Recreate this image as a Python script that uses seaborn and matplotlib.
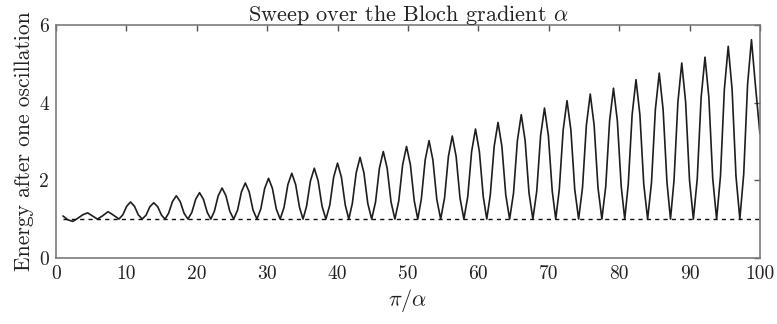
import matplotlib
matplotlib.use("Agg")
import matplotlib.pyplot as plt
import seaborn as sns
import pandas as pd

# pi/alpha sample positions and energy after one oscillation
pi_over_alpha = [
    1.0, 1.7, 2.4, 3.1, 3.8, 4.5, 5.2, 5.9, 6.6, 7.4, 8.1, 8.95,
    9.5, 10.05, 10.6, 11.15, 11.7, 12.25,
    12.8, 13.35, 13.9, 14.45, 15.0, 15.5,
    16.0, 16.55, 17.1, 17.65, 18.2, 18.75,
    19.3, 19.85, 20.4, 20.95, 21.5, 22.0,
    22.5, 23.05, 23.6, 24.15, 24.7, 25.25,
    25.8, 26.35, 26.9, 27.45, 28.0, 28.55,
    29.1, 29.65, 30.2, 30.75, 31.3, 31.85,
    32.4, 32.95, 33.5, 34.05, 34.6, 35.1,
    35.6, 36.15, 36.7, 37.25, 37.8, 38.35,
    38.9, 39.45, 40.0, 40.55, 41.1, 41.6,
    42.1, 42.65, 43.2, 43.75, 44.3, 44.85,
    45.4, 45.95, 46.5, 47.05, 47.6, 48.15,
    48.7, 49.25, 49.8, 50.35, 50.9, 51.4,
    51.9, 52.45, 53.0, 53.55, 54.1, 54.65,
    55.2, 55.75, 56.3, 56.85, 57.4, 57.95,
    58.5, 59.05, 59.6, 60.15, 60.7, 61.2,
    61.7, 62.25, 62.8, 63.35, 63.9, 64.45,
    65.0, 65.55, 66.1, 66.65, 67.2, 67.75,
    68.3, 68.85, 69.4, 69.95, 70.5, 71.0,
    71.5, 72.05, 72.6, 73.15, 73.7, 74.25,
    74.8, 75.35, 75.9, 76.45, 77.0, 77.55,
    78.1, 78.65, 79.2, 79.75, 80.3, 80.8,
    81.3, 81.85, 82.4, 82.95, 83.5, 84.05,
    84.6, 85.15, 85.7, 86.25, 86.8, 87.3,
    87.8, 88.35, 88.9, 89.45, 90.0, 90.55,
    91.1, 91.65, 92.2, 92.75, 93.3, 93.85,
    94.4, 94.95, 95.5, 96.05, 96.6, 97.15,
    97.7, 98.25, 98.8, 99.35, 100.0,
]
energy = [
    1.08, 0.98, 0.94, 1.02, 1.11, 1.16, 1.08, 1.00, 1.08, 1.19, 1.11, 1.00,
    1.11, 1.33, 1.44, 1.33, 1.11, 1.00,
    1.10, 1.32, 1.42, 1.32, 1.10, 1.00,
    1.15, 1.45, 1.60, 1.45, 1.15, 1.00,
    1.17, 1.51, 1.68, 1.51, 1.17, 1.00,
    1.20, 1.60, 1.80, 1.60, 1.20, 1.00,
    1.23, 1.70, 1.93, 1.70, 1.23, 1.00,
    1.26, 1.79, 2.05, 1.79, 1.26, 1.00,
    1.30, 1.89, 2.18, 1.89, 1.30, 1.00,
    1.33, 1.98, 2.31, 1.98, 1.33, 1.00,
    1.36, 2.08, 2.44, 2.08, 1.36, 1.00,
    1.40, 2.19, 2.59, 2.19, 1.40, 1.00,
    1.44, 2.31, 2.74, 2.31, 1.44, 1.00,
    1.47, 2.40, 2.87, 2.40, 1.47, 1.00,
    1.51, 2.52, 3.02, 2.52, 1.51, 1.00,
    1.54, 2.61, 3.14, 2.61, 1.54, 1.00,
    1.58, 2.74, 3.32, 2.74, 1.58, 1.00,
    1.62, 2.87, 3.49, 2.87, 1.62, 1.00,
    1.67, 3.02, 3.69, 3.02, 1.67, 1.00,
    1.72, 3.15, 3.86, 3.15, 1.72, 1.00,
    1.76, 3.29, 4.05, 3.29, 1.76, 1.00,
    1.81, 3.42, 4.22, 3.42, 1.81, 1.00,
    1.84, 3.53, 4.37, 3.53, 1.84, 1.00,
    1.90, 3.69, 4.59, 3.69, 1.90, 1.00,
    1.94, 3.82, 4.76, 3.82, 1.94, 1.00,
    2.00, 4.01, 5.02, 4.01, 2.00, 1.00,
    2.04, 4.13, 5.17, 4.13, 2.04, 1.00,
    2.11, 4.34, 5.45, 4.34, 2.11, 1.00,
    2.16, 4.47, 5.62, 4.47, 3.20,
]
baseline_x = [1.0, 100.0]
baseline_y = [1.0, 1.0]

x_ticks = [0, 10, 20, 30, 40, 50, 60, 70, 80, 90, 100]
y_ticks = [0, 2, 4, 6]

sns.set_style("white")
plt.rcParams["font.family"] = ["serif"]
plt.rcParams["font.serif"] = ["cmr10", "DejaVu Serif"]
plt.rcParams["mathtext.fontset"] = "cm"
plt.rcParams["axes.formatter.use_mathtext"] = True

df = pd.DataFrame({"x": pi_over_alpha, "E": energy})

fig = plt.figure(figsize=(7.77, 3.24), dpi=100)
ax = fig.add_axes([0.072, 0.204, 0.906, 0.719])

sns.lineplot(data=df, x="x", y="E", ax=ax, color="#1e1e1e", linewidth=1.2,
             estimator=None, sort=False)
sns.lineplot(x=baseline_x, y=baseline_y, ax=ax, color="#111111", linewidth=1.0,
             linestyle=(0, (3, 3)), estimator=None)

ax.set_xlim(0, 100)
ax.set_ylim(0, 6)
ax.set_xticks(x_ticks)
ax.set_yticks(y_ticks)
ax.set_xticklabels([str(t) for t in x_ticks])
ax.set_yticklabels([str(t) for t in y_ticks])

for s in ax.spines.values():
    s.set_visible(True)
    s.set_color("#7a7a7a")
    s.set_linewidth(1.2)
ax.tick_params(direction="in", length=4, width=1.0, color="#555555",
               top=True, right=True, labelsize=14, pad=5, labelcolor="#222222")

ax.set_title(r"Sweep over the Bloch gradient $\alpha$", fontsize=16, pad=3, color="#222222")
ax.set_xlabel(r"$\pi/\alpha$", fontsize=16, labelpad=3, color="#222222")
ax.set_ylabel("Energy after one oscillation", fontsize=15.5, labelpad=4, color="#222222")

fig.savefig("out.png", dpi=100)
